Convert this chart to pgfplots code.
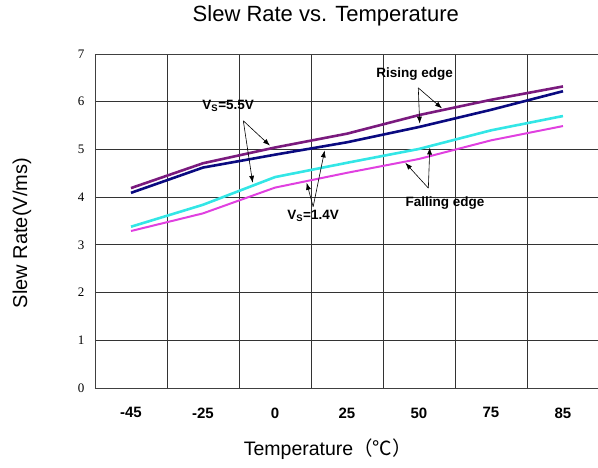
\documentclass[border=0pt]{standalone}
\usepackage{pgfplots}
\pgfplotsset{compat=1.18}
\usetikzlibrary{arrows.meta}
\usepackage{fontspec}
\setmainfont{Liberation Sans}
\newfontfamily\serif{Liberation Serif}
\newfontfamily\cjk{Noto Sans CJK SC}

\definecolor{risehi}{HTML}{7A1A7E}
\definecolor{riselo}{HTML}{0A0A80}
\definecolor{fallhi}{HTML}{33E6E6}
\definecolor{falllo}{HTML}{E040E0}

% index 0..6 = -45,-25,0,25,50,75,85 degC
\pgfplotstableread{
idx rhi  rlo  fhi  flo
0   4.19 4.09 3.38 3.29
1   4.71 4.62 3.84 3.66
2   5.04 4.89 4.42 4.20
3   5.33 5.15 4.72 4.51
4   5.72 5.47 5.01 4.80
5   6.04 5.83 5.40 5.19
6   6.32 6.22 5.70 5.49
}\slew

\newcommand{\ann}{\bfseries\fontsize{13.5}{15}\selectfont}

\begin{document}
\begin{tikzpicture}
\useasboundingbox (-95pt,-79pt) rectangle (503pt,388pt);
\begin{axis}[
  scale only axis, width=504pt, height=334pt,
  xmin=-0.5, xmax=6.5, ymin=0, ymax=7,
  xtick={0,...,6}, xticklabels={-45,-25,0,25,50,75,85},
  minor xtick={0.5,1.5,...,5.5},
  ytick={0,...,7},
  major tick length=0pt, minor tick length=0pt,
  ymajorgrids, xminorgrids,
  grid style={black!80, line width=0.8pt},
  minor grid style={black!80, line width=0.8pt},
  axis line style={black!75, line width=0.8pt},
  /pgf/number format/assume math mode=true,
  yticklabel style={font=\serif\fontsize{13}{15}\selectfont, xshift=-7pt},
  xticklabel style={font=\bfseries\fontsize{15}{17}\selectfont, yshift=-16pt},
  title={Slew Rate vs. Temperature},
  title style={at={(axis description cs:0.458,1.096)}, anchor=center,
    font=\fontsize{22}{25}\selectfont},
  xlabel={Temperature{\cjk（℃）}},
  xlabel style={at={(axis description cs:0.462,-0.183)}, anchor=center,
    font=\fontsize{19.5}{22}\selectfont},
  ylabel={Slew Rate(V/ms)},
  ylabel style={at={(axis description cs:-0.145,0.464)}, anchor=center,
    font=\fontsize{20}{23}\selectfont},
]
\addplot[risehi, line width=2.6pt] table[x=idx, y=rhi] {\slew};
\addplot[riselo, line width=2.6pt] table[x=idx, y=rlo] {\slew};
\addplot[fallhi, line width=2.6pt] table[x=idx, y=fhi] {\slew};
\addplot[falllo, line width=2pt] table[x=idx, y=flo] {\slew};

\node[font=\ann] at (axis cs:3.94,6.58) {Rising edge};
\draw[-{Latex[length=7pt,width=5pt]}, line width=0.6pt] (axis cs:3.99,6.29) -- (axis cs:4.32,5.86);
\draw[-{Latex[length=7pt,width=5pt]}, line width=0.6pt] (axis cs:3.99,6.29) -- (axis cs:4.01,5.54);

\node[font=\ann] at (axis cs:1.35,5.91) {V\textsubscript{S}=5.5V};
\draw[-{Latex[length=7pt,width=5pt]}, line width=0.6pt] (axis cs:1.56,5.60) -- (axis cs:1.93,5.08);
\draw[-{Latex[length=7pt,width=5pt]}, line width=0.6pt] (axis cs:1.56,5.60) -- (axis cs:1.69,4.30);

\node[font=\ann] at (axis cs:2.53,3.61) {V\textsubscript{S}=1.4V};
\draw[-{Latex[length=7pt,width=5pt]}, line width=0.6pt] (axis cs:2.53,3.80) -- (axis cs:2.69,4.98);
\draw[-{Latex[length=7pt,width=5pt]}, line width=0.6pt] (axis cs:2.53,3.80) -- (axis cs:2.44,4.30);

\node[font=\ann] at (axis cs:4.36,3.88) {Falling edge};
\draw[-{Latex[length=7pt,width=5pt]}, line width=0.6pt] (axis cs:4.13,4.19) -- (axis cs:4.15,5.04);
\draw[-{Latex[length=7pt,width=5pt]}, line width=0.6pt] (axis cs:4.13,4.19) -- (axis cs:3.81,4.72);
\end{axis}
\end{tikzpicture}
\end{document}
